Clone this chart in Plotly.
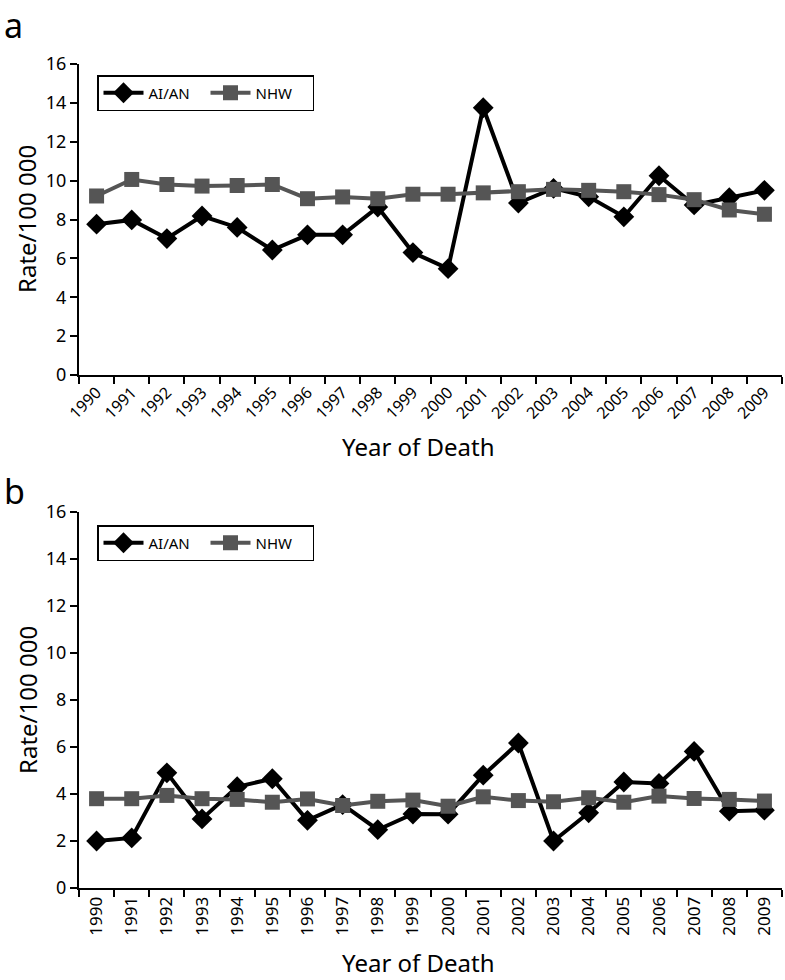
import plotly.graph_objects as go

years = [str(y) for y in range(1990, 2010)]

a_aian = [7.76, 7.98, 7.02, 8.18, 7.59, 6.43, 7.21, 7.21, 8.64, 6.3, 5.47,
          13.75, 8.85, 9.6, 9.17, 8.14, 10.25, 8.75, 9.12, 9.5]
a_nhw = [9.21, 10.06, 9.8, 9.72, 9.75, 9.8, 9.07, 9.16, 9.07, 9.3, 9.3,
         9.37, 9.43, 9.55, 9.5, 9.43, 9.28, 9.02, 8.49, 8.27]

b_aian = [2.0, 2.13, 4.9, 2.94, 4.31, 4.65, 2.88, 3.55, 2.48, 3.15, 3.14,
          4.8, 6.17, 2.0, 3.2, 4.51, 4.45, 5.81, 3.27, 3.31]
b_nhw = [3.8, 3.8, 3.94, 3.8, 3.77, 3.65, 3.79, 3.51, 3.69, 3.74, 3.48,
         3.88, 3.72, 3.67, 3.84, 3.65, 3.91, 3.81, 3.77, 3.7]

y_ticks = [0, 2, 4, 6, 8, 10, 12, 14, 16]

FONT = "Noto Sans"
BLACK = "#000000"
GRAY = "#555555"

W, H = 785, 980
L, R, T, B = 79, 3, 64, 92
PW, PH = W - L - R, H - T - B

def py(px):  # pixel y -> paper y
    return (H - B - px) / PH

def pxx(px):  # pixel x -> paper x
    return (px - L) / PW

fig = go.Figure()

def add_pair(aian, nhw, xa, ya, legend):
    fig.add_trace(go.Scatter(
        x=years, y=aian, name="AI/AN", mode="lines+markers",
        line=dict(color=BLACK, width=4),
        marker=dict(symbol="diamond", size=16, color=BLACK),
        xaxis=xa, yaxis=ya, legend=legend))
    fig.add_trace(go.Scatter(
        x=years, y=nhw, name="NHW", mode="lines+markers",
        line=dict(color=GRAY, width=4),
        marker=dict(symbol="square", size=15, color=GRAY),
        xaxis=xa, yaxis=ya, legend=legend))

add_pair(a_aian, a_nhw, "x", "y", "legend")
add_pair(b_aian, b_nhw, "x2", "y2", "legend2")

dom_a = [py(375), py(64)]
dom_b = [py(888), py(512)]

common_x = dict(
    type="category", tickson="boundaries", ticks="outside", ticklen=7,
    tickwidth=2, tickcolor=BLACK, showline=True, linecolor=BLACK,
    linewidth=2, showgrid=False, zeroline=False, automargin=False,
    range=[-0.5, 19.5],
)
common_y = dict(
    range=[0, 16], tickvals=y_ticks, ticks="outside", ticklen=7,
    tickwidth=2, tickcolor=BLACK, showline=True, linecolor=BLACK,
    linewidth=2, showgrid=False, zeroline=False, automargin=False,
    tickfont=dict(family=FONT, size=18, color=BLACK),
)

legend_common = dict(
    orientation="h", bordercolor=BLACK, borderwidth=1.5, bgcolor="white",
    font=dict(family=FONT, size=15, color=BLACK), xanchor="left", yanchor="top",
    itemwidth=40, entrywidth=52,
)

title_font = dict(family=FONT, size=24, color=BLACK)

fig.update_layout(
    width=W, height=H,
    margin=dict(l=L, r=R, t=T, b=B),
    paper_bgcolor="white", plot_bgcolor="white",
    showlegend=True,
    xaxis=dict(common_x, domain=[0, 1], anchor="y", tickangle=-45,
               tickfont=dict(family=FONT, size=16, color=BLACK)),
    yaxis=dict(common_y, domain=dom_a, anchor="x"),
    xaxis2=dict(common_x, domain=[0, 1], anchor="y2", tickangle=-90,
                tickfont=dict(family=FONT, size=17, color=BLACK)),
    yaxis2=dict(common_y, domain=dom_b, anchor="x2"),
    legend=dict(legend_common, x=pxx(97), y=py(75)),
    legend2=dict(legend_common, x=pxx(97), y=py(525)),
    annotations=[
        dict(text="a", x=pxx(2), y=py(0), xref="paper", yref="paper",
             xanchor="left", yanchor="top", showarrow=False,
             font=dict(family=FONT, size=34, color=BLACK)),
        dict(text="b", x=pxx(2), y=py(466), xref="paper", yref="paper",
             xanchor="left", yanchor="top", showarrow=False,
             font=dict(family=FONT, size=34, color=BLACK)),
        dict(text="Year of Death", x=pxx(418), y=py(447), xref="paper", yref="paper",
             xanchor="center", yanchor="middle", showarrow=False, font=title_font),
        dict(text="Year of Death", x=pxx(418), y=py(962), xref="paper", yref="paper",
             xanchor="center", yanchor="middle", showarrow=False, font=title_font),
        dict(text="Rate/100 000", x=pxx(27), y=py(219), xref="paper", yref="paper",
             xanchor="center", yanchor="middle", showarrow=False, textangle=-90,
             font=title_font),
        dict(text="Rate/100 000", x=pxx(27), y=py(700), xref="paper", yref="paper",
             xanchor="center", yanchor="middle", showarrow=False, textangle=-90,
             font=title_font),
    ],
)

fig.write_html(
    "out.html",
    config={"displayModeBar": False},
    post_script="document.body.style.margin='0';document.body.style.overflow='hidden';",
)
